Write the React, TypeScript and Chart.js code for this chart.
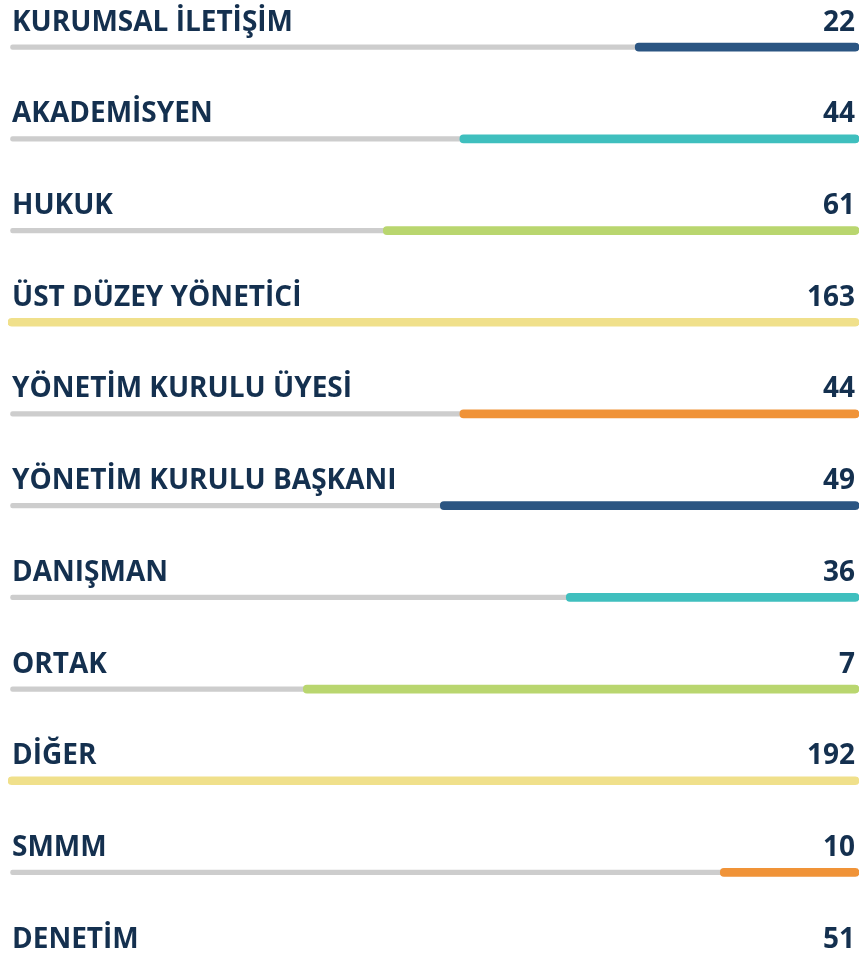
import React, { useEffect, useRef } from "react";
import { Chart, registerables } from "chart.js";

Chart.register(...registerables);

const categories = [
  "KURUMSAL İLETİŞİM",
  "AKADEMİSYEN",
  "HUKUK",
  "ÜST DÜZEY YÖNETİCİ",
  "YÖNETİM KURULU ÜYESİ",
  "YÖNETİM KURULU BAŞKANI",
  "DANIŞMAN",
  "ORTAK",
  "DİĞER",
  "SMMM",
  "DENETİM",
];
const counts = [22, 44, 61, 163, 44, 49, 36, 7, 192, 10, 51];
// length of the coloured segment (percent of the track)
const barShares = [26.3, 46.9, 55.9, 100, 46.9, 49.2, 34.4, 65.3, 100, 16.3, 50];
const barColors = [
  "#2b5582",
  "#3fbfbe",
  "#b9d66f",
  "#f0e08b",
  "#f09338",
  "#2b5582",
  "#3fbfbe",
  "#b9d66f",
  "#f0e08b",
  "#f09338",
  "#2b5582",
];
const trackStart = 0.3;
const trackEnd = 99.9;

const TEXT_COLOR = "#14304f";
const FONT = "bold 28px 'Open Sans'";

export default function App() {
  const canvasRef = useRef<HTMLCanvasElement | null>(null);

  useEffect(() => {
    const canvas = canvasRef.current;
    if (!canvas) return;

    const labelPlugin = {
      id: "rowLabels",
      afterDatasetsDraw(chart: any) {
        const ctx = chart.ctx;
        const yScale = chart.scales.y;
        ctx.save();
        ctx.fillStyle = TEXT_COLOR;
        ctx.font = FONT;
        ctx.textBaseline = "alphabetic";
        categories.forEach((cat, i) => {
          const y = yScale.getPixelForValue(i) - 16.5;
          ctx.textAlign = "left";
          ctx.fillText(cat, 12, y);
          ctx.textAlign = "right";
          ctx.fillText(String(counts[i]), 855, y);
        });
        ctx.restore();
      },
    };

    const chart = new Chart(canvas, {
      type: "bar",
      data: {
        labels: categories,
        datasets: [
          {
            data: barShares.map((s) => [100 - s, 100]) as any,
            backgroundColor: barColors,
            barThickness: 8,
            borderRadius: 6,
            borderSkipped: false,
            grouped: false,
            order: 0,
          } as any,
          {
            data: categories.map(() => [trackStart, trackEnd]) as any,
            backgroundColor: "#cdcdcd",
            barThickness: 4.5,
            borderRadius: 3,
            borderSkipped: false,
            grouped: false,
            order: 1,
          } as any,
        ],
      },
      options: {
        indexAxis: "y",
        responsive: false,
        animation: false,
        devicePixelRatio: 1,
        layout: { padding: { left: 8, right: 9, top: 1.3, bottom: 0 } },
        scales: {
          x: { display: false, min: 0, max: 100 },
          y: { display: false },
        },
        plugins: {
          legend: { display: false },
          tooltip: { enabled: false },
        },
      },
      plugins: [labelPlugin],
    });

    return () => chart.destroy();
  }, []);

  return (
    <div
      style={{
        position: "absolute",
        left: 0,
        top: 0,
        width: 868,
        height: 957,
        overflow: "hidden",
        background: "#ffffff",
      }}
    >
      <canvas ref={canvasRef} width={868} height={1010} style={{ display: "block" }} />
    </div>
  );
}
